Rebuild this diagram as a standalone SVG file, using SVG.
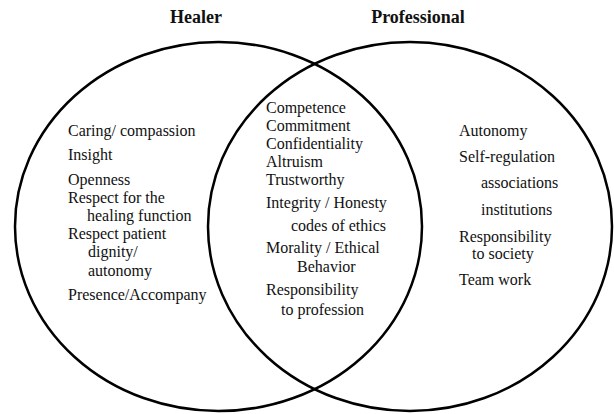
<svg xmlns="http://www.w3.org/2000/svg" width="614" height="414" viewBox="0 0 614 414">
<style>
  .ring { fill: none; stroke: #000; stroke-width: 2.5; }
  text { font-family: "Liberation Serif", "Times New Roman", serif; font-size: 16px; fill: #111; }
  .title { font-weight: bold; font-size: 18px; text-anchor: middle; }
</style>
<rect width="614" height="414" fill="#fff"/>
<g id="healer">
  <ellipse class="ring" cx="218.5" cy="226.5" rx="203.5" ry="184.5"/>
  <text class="title" x="196" y="23">Healer</text>
  <text x="68" y="136">Caring/ compassion</text>
  <text x="68" y="160">Insight</text>
  <text x="68" y="185">Openness</text>
  <text x="68" y="203">Respect for the</text>
  <text x="87" y="221">healing function</text>
  <text x="68" y="239">Respect patient</text>
  <text x="88" y="257">dignity/</text>
  <text x="88" y="276">autonomy</text>
  <text x="68" y="300">Presence/Accompany</text>
</g>
<g id="professional">
  <ellipse class="ring" cx="410" cy="226.5" rx="202" ry="184.5"/>
  <text class="title" x="418" y="23">Professional</text>
  <text x="459" y="136">Autonomy</text>
  <text x="459" y="162">Self-regulation</text>
  <text x="481" y="188">associations</text>
  <text x="481" y="215">institutions</text>
  <text x="459" y="242">Responsibility</text>
  <text x="472" y="259">to society</text>
  <text x="459" y="285">Team work</text>
</g>
<g id="overlap">
  <text x="266" y="113">Competence</text>
  <text x="266" y="131">Commitment</text>
  <text x="266" y="149">Confidentiality</text>
  <text x="266" y="167">Altruism</text>
  <text x="266" y="185">Trustworthy</text>
  <text x="266" y="208">Integrity / Honesty</text>
  <text x="291" y="231">codes of ethics</text>
  <text x="266" y="253">Morality / Ethical</text>
  <text x="297" y="272">Behavior</text>
  <text x="266" y="295">Responsibility</text>
  <text x="281" y="315">to profession</text>
</g>
<g id="connectors"></g>
</svg>
